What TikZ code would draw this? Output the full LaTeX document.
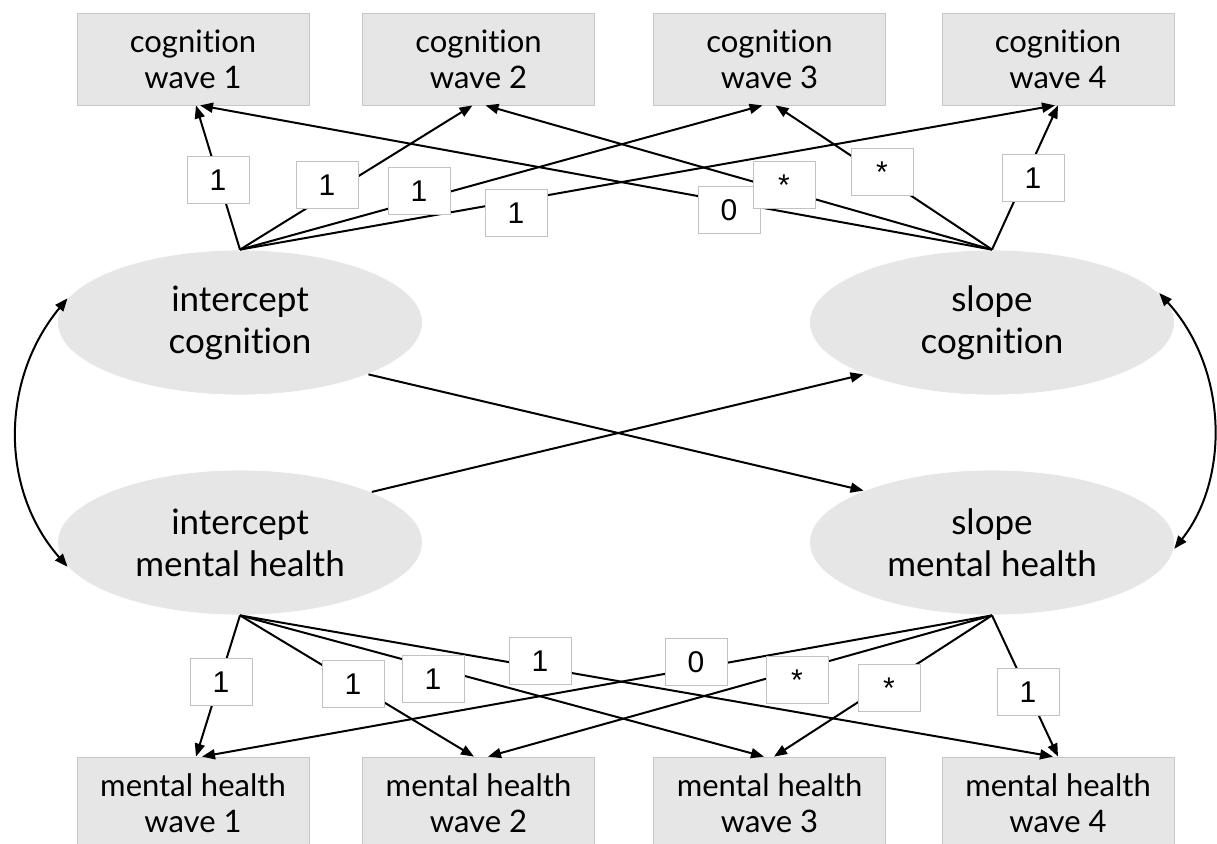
\documentclass[tikz,border=0pt]{standalone}
\usepackage{fontspec}
\setmainfont{Lato}[Ligatures=NoCommon]
\newfontfamily\labfont{Liberation Sans}
\usetikzlibrary{shapes.geometric,arrows.meta}
\definecolor{boxgray}{gray}{0.902}
\definecolor{boxedge}{gray}{0.78}
\definecolor{labedge}{gray}{0.76}
\begin{document}
\begin{tikzpicture}[x=1pt,y=-1pt,
  obs/.style={rectangle, fill=boxgray, draw=boxedge, line width=0.8pt,
    minimum width=232pt, minimum height=92pt, inner sep=0pt, align=center,
    font=\fontsize{31}{36}\selectfont},
  lat/.style={ellipse, fill=boxgray, draw=white, line width=0.8pt,
    minimum width=365pt, minimum height=145pt, inner sep=0pt, align=center,
    font=\fontsize{35}{42}\selectfont},
  lab/.style={rectangle, fill=white, draw=labedge, line width=0.8pt,
    minimum width=62pt, minimum height=47pt, inner sep=0pt,
    font=\labfont\fontsize{30}{34}\selectfont},
  arr/.style={line width=2pt, -{Triangle[length=13pt,width=10pt]}},
  dbl/.style={line width=2pt, {Triangle[length=13pt,width=10pt]}-{Triangle[length=13pt,width=10pt]}}
]
\useasboundingbox (0,0) rectangle (1217,843);

% observed boxes
\node[obs] (C1) at (193,59) {cognition\\wave 1};
\node[obs] (C2) at (478.5,59) {cognition\\wave 2};
\node[obs] (C3) at (769.5,59) {cognition\\wave 3};
\node[obs] (C4) at (1058,59) {cognition\\wave 4};
\node[obs] (M1) at (193,803) {mental health\\wave 1};
\node[obs] (M2) at (478.5,803) {mental health\\wave 2};
\node[obs] (M3) at (769.5,803) {mental health\\wave 3};
\node[obs] (M4) at (1058,803) {mental health\\wave 4};

% latent ellipses
\node[lat] (IC) at (240,322.5) {intercept\\cognition};
\node[lat] (SC) at (992,322.5) {slope\\cognition};
\node[lat] (IM) at (240,542.5) {intercept\\mental health};
\node[lat] (SM) at (992,542.5) {slope\\mental health};

% top loadings
\draw[arr] (IC.north) -- ([xshift=3pt]C1.south);
\draw[arr] (IC.north) -- ([xshift=-6pt]C2.south);
\draw[arr] (IC.north) -- ([xshift=-7pt]C3.south);
\draw[arr] (IC.north) -- ([xshift=-3pt]C4.south);
\draw[arr] (SC.north) -- ([xshift=7pt]C1.south);
\draw[arr] (SC.north) -- ([xshift=7pt]C2.south);
\draw[arr] (SC.north) -- ([xshift=6pt]C3.south);
\draw[arr] (SC.north) -- (C4.south);

% bottom loadings
\draw[arr] (IM.south) -- ([xshift=3pt]M1.north);
\draw[arr] (IM.south) -- ([xshift=-4.5pt]M2.north);
\draw[arr] (IM.south) -- ([xshift=-5.5pt]M3.north);
\draw[arr] (IM.south) -- ([xshift=-5pt]M4.north);
\draw[arr] (SM.south) -- ([xshift=9pt]M1.north);
\draw[arr] (SM.south) -- ([xshift=9.5pt]M2.north);
\draw[arr] (SM.south) -- ([xshift=4.5pt]M3.north);
\draw[arr] (SM.south) -- (M4.north);

% cross paths
\draw[arr] (IC.-22.5) -- (SM.158.2);
\draw[arr] (IM.21.8) -- (SC.202.2);

% covariances
\draw[dbl] (IC.172) .. controls (0,380) and (0,490) .. (IM.188);
\draw[dbl] (SC.10) .. controls (1229,370) and (1229,480) .. (SM.-2);

% labels
\node[lab] (l1) at (218,180) {1};
\node[lab] (l2) at (327,185) {1};
\node[lab] (l3) at (419,191) {1};
\node[lab] (l4) at (516,213) {1};
\node[lab] (l5) at (729,210) {0};
\node[lab] (l6) at (784,185) {*};
\node[lab] (l7) at (882,172) {*};
\node[lab] (l8) at (1033,178) {1};
\node[lab] (m1) at (221,682) {1};
\node[lab] (m2) at (353,684) {1};
\node[lab] (m3) at (433,679) {1};
\node[lab] (m4) at (540,661) {1};
\node[lab] (m5) at (696,662) {0};
\node[lab] (m6) at (797,680) {*};
\node[lab] (m7) at (889,688) {*};
\node[lab] (m8) at (1028,692) {1};
\end{tikzpicture}
\end{document}
